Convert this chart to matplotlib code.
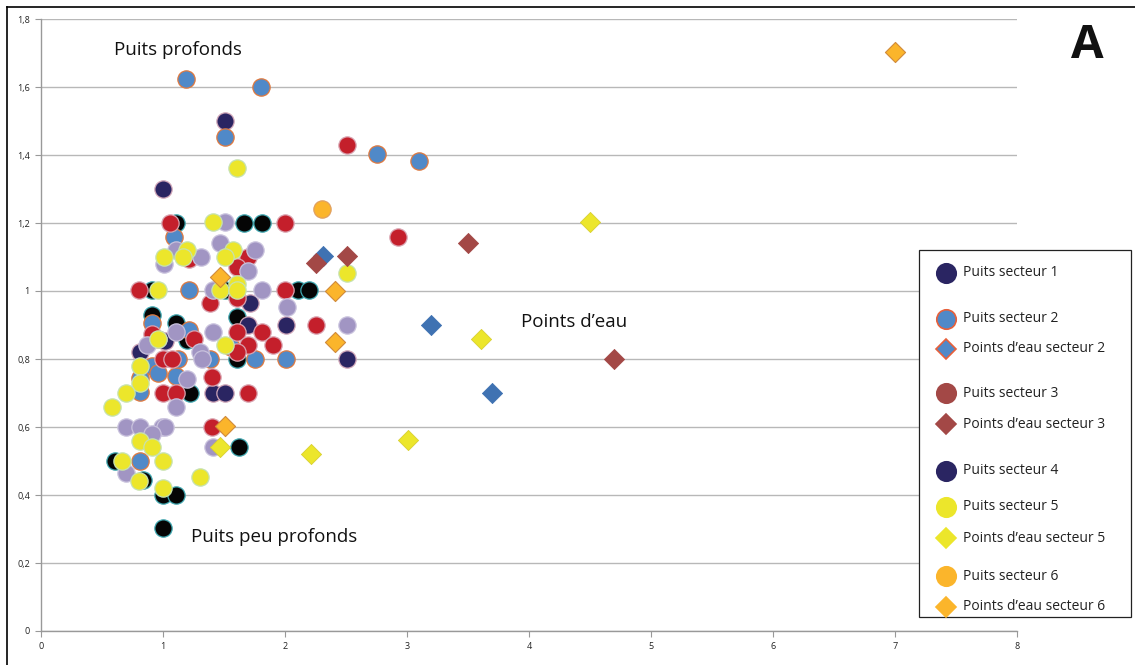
import matplotlib
matplotlib.use("Agg")
import matplotlib.pyplot as plt
from matplotlib.lines import Line2D
from matplotlib.patches import Rectangle

# ---------------- data ----------------
navy_x = [1.00, 1.51, 1.71, 1.70, 2.01, 2.51, 1.41, 1.51, 1.02, 0.81]
navy_y = [1.30, 1.50, 0.965, 0.90, 0.90, 0.80, 0.70, 0.70, 0.853, 0.82]

black_x = [1.11, 0.91, 1.51, 1.66, 1.81, 2.11, 2.20, 1.61, 1.61, 0.91, 1.11, 1.20, 1.22,
           0.61, 0.84, 1.00, 1.11, 1.00, 1.62]
black_y = [1.20, 1.003, 1.003, 1.20, 1.20, 1.003, 1.003, 0.924, 0.80, 0.93, 0.905, 0.855, 0.70,
           0.50, 0.445, 0.40, 0.40, 0.303, 0.54]

blue_x = [1.19, 1.80, 1.51, 2.75, 3.10, 1.09, 1.21, 1.385, 1.75, 2.01, 1.56, 0.91, 1.21,
          0.91, 0.96, 1.11, 0.81, 0.81, 1.12, 0.81]
blue_y = [1.624, 1.60, 1.453, 1.403, 1.382, 1.16, 1.003, 0.80, 0.80, 0.80, 0.835, 0.905, 0.885,
          0.78, 0.76, 0.75, 0.744, 0.703, 0.80, 0.50]

red_x = [1.06, 0.80, 1.385, 1.21, 1.70, 1.61, 1.61, 2.00, 2.00, 2.51, 1.61, 1.81, 1.70, 1.90,
         1.61, 2.25, 1.40, 1.70, 1.40, 1.25, 1.00, 1.07, 0.96, 1.00, 1.11, 0.91, 2.93]
red_y = [1.20, 1.003, 0.965, 1.095, 1.10, 1.07, 0.98, 1.20, 1.003, 1.43, 0.88, 0.88, 0.84, 0.84,
         0.82, 0.90, 0.747, 0.70, 0.60, 0.86, 0.80, 0.80, 0.86, 0.70, 0.70, 0.875, 1.16]

lav_x = [1.51, 1.11, 1.01, 1.31, 1.47, 1.75, 1.70, 1.41, 1.81, 2.02, 2.51, 1.41, 1.30, 1.32,
         0.87, 1.11, 1.20, 1.11, 0.70, 0.81, 0.99, 1.02, 0.91, 1.41, 0.70]
lav_y = [1.203, 1.12, 1.08, 1.10, 1.14, 1.12, 1.06, 1.003, 1.003, 0.953, 0.90, 0.88, 0.82, 0.80,
         0.84, 0.88, 0.74, 0.66, 0.60, 0.60, 0.60, 0.60, 0.58, 0.54, 0.465]

yel_x = [1.61, 1.41, 1.20, 1.01, 1.16, 1.57, 1.51, 0.96, 1.47, 1.61, 1.61, 2.51, 1.51, 0.96,
         0.81, 0.81, 0.70, 0.58, 0.81, 0.91, 1.00, 0.66, 1.00, 0.80, 1.30]
yel_y = [1.362, 1.203, 1.12, 1.10, 1.10, 1.12, 1.10, 1.003, 1.003, 1.02, 1.003, 1.053, 0.84, 0.86,
         0.78, 0.73, 0.70, 0.66, 0.56, 0.54, 0.50, 0.50, 0.42, 0.44, 0.453]

ora_x = [2.30]
ora_y = [1.241]

d_ora_x = [7.00, 1.47, 2.41, 2.41, 1.51]
d_ora_y = [1.703, 1.041, 1.00, 0.85, 0.603]

d_yel_x = [4.50, 3.61, 3.01, 2.21, 1.47]
d_yel_y = [1.203, 0.859, 0.562, 0.521, 0.54]

d_blue_x = [2.31, 3.20, 3.70]
d_blue_y = [1.103, 0.90, 0.70]

d_red_x = [2.25, 2.51, 3.50, 4.70]
d_red_y = [1.082, 1.103, 1.141, 0.80]

x_ticks = [0, 1, 2, 3, 4, 5, 6, 7, 8]
y_ticks = [0, 0.2, 0.4, 0.6, 0.8, 1.0, 1.2, 1.4, 1.6, 1.8]
y_labels = ["0", "0,2", "0,4", "0,6", "0,8", "1", "1,2", "1,4", "1,6", "1,8"]

legend_labels = ["Puits secteur 1", "Puits secteur 2", "Points d\u2019eau secteur 2",
                 "Puits secteur 3", "Points d\u2019eau secteur 3", "Puits secteur 4",
                 "Puits secteur 5", "Points d\u2019eau secteur 5", "Puits secteur 6",
                 "Points d\u2019eau secteur 6"]

# ---------------- colours ----------------
C_NAVY = "#2A2562"
C_BLACK = "#050505"
C_BLUE = "#5089C8"
C_RED = "#C41F2B"
C_LAV = "#A195C3"
C_YEL = "#ECE62B"
C_ORA = "#FBB52B"
C_DBLUE = "#3F72B2"
C_DRED = "#A34846"

plt.rcParams['font.family'] = ['Open Sans', 'DejaVu Sans']

W, H = 1135, 665
fig = plt.figure(figsize=(W / 100, H / 100), dpi=100)
ax = fig.add_axes([41 / W, 1 - 631 / H, (1017 - 41) / W, (631 - 19) / H])

S = 155
ax.scatter(black_x, black_y, s=S, c=C_BLACK, edgecolors="#3FA7B0", linewidths=0.9, zorder=3)
ax.scatter(navy_x, navy_y, s=S, c=C_NAVY, edgecolors="#D0A6B8", linewidths=0.9, zorder=3)
ax.scatter(blue_x, blue_y, s=S, c=C_BLUE, edgecolors="#E0793E", linewidths=0.9, zorder=3)
ax.scatter(red_x, red_y, s=S, c=C_RED, edgecolors="#D9A3B0", linewidths=0.9, zorder=3)
ax.scatter(lav_x, lav_y, s=S, c=C_LAV, edgecolors="#C9C2DD", linewidths=0.9, zorder=3)
ax.scatter(yel_x, yel_y, s=S, c=C_YEL, edgecolors="#C6E2B0", linewidths=0.9, zorder=3)
ax.scatter(ora_x, ora_y, s=S, c=C_ORA, edgecolors="#E0A060", linewidths=0.9, zorder=3)

SD = 105
ax.scatter(d_ora_x, d_ora_y, s=SD, marker="D", c=C_ORA, edgecolors="#D08A3A", linewidths=0.8, zorder=4)
ax.scatter(d_yel_x, d_yel_y, s=SD, marker="D", c=C_YEL, edgecolors="#D8D030", linewidths=0.6, zorder=4)
ax.scatter(d_blue_x, d_blue_y, s=SD, marker="D", c=C_DBLUE, edgecolors=C_DBLUE, linewidths=0.6, zorder=4)
ax.scatter(d_red_x, d_red_y, s=SD, marker="D", c=C_DRED, edgecolors=C_DRED, linewidths=0.6, zorder=4)

ax.set_xlim(0, 8)
ax.set_ylim(0, 1.8)
ax.set_xticks(x_ticks)
ax.set_xticklabels([str(v) for v in x_ticks])
ax.set_yticks(y_ticks)
ax.set_yticklabels(y_labels)
ax.tick_params(axis="both", labelsize=6.5, colors="#999999", length=4, width=0.8, direction="out")
for lab in ax.get_xticklabels() + ax.get_yticklabels():
    lab.set_color("#222222")
ax.xaxis.set_tick_params(pad=4)
ax.yaxis.set_tick_params(pad=4)
ax.grid(axis="y", color="#B8B8B8", linewidth=1.0, zorder=0)
ax.set_axisbelow(True)
for side in ["top", "right"]:
    ax.spines[side].set_visible(False)
for side in ["left", "bottom"]:
    ax.spines[side].set_color("#999999")
    ax.spines[side].set_linewidth(1.0)

# annotations
ax.text(1.12, 1.71, "Puits profonds", fontsize=13.5, ha="center", va="center", color="#111111")
ax.text(1.91, 0.277, "Puits peu profonds", fontsize=13.5, ha="center", va="center", color="#111111")
ax.text(4.37, 0.91, "Points d\u2019eau", fontsize=13.5, ha="center", va="center", color="#111111")
fig.text(1087 / W, 1 - 45 / H, "A", fontsize=34, fontweight="bold", ha="center", va="center",
         color="#111111", family=["Open Sans", "DejaVu Sans"])

# outer frame lines (left and top)
fig.add_artist(Line2D([7 / W, 7 / W], [0, 1 - 7 / H], color="black", linewidth=1.2))
fig.add_artist(Line2D([7 / W, 1], [1 - 7 / H, 1 - 7 / H], color="black", linewidth=1.2))

# legend (manual, with group spacing)
lx0, ly0, lx1, ly1 = 919, 250, 1131, 617
fig.add_artist(Rectangle((lx0 / W, 1 - ly1 / H), (lx1 - lx0) / W, (ly1 - ly0) / H,
                         transform=fig.transFigure, facecolor="white", edgecolor="#222222",
                         linewidth=0.9, zorder=5))
leg_y = [273, 319, 349, 393, 424, 471, 507, 538, 576, 607]
leg_style = [
    ("o", C_NAVY, C_NAVY),
    ("o", C_BLUE, "#E8603A"),
    ("D", C_BLUE, "#E8603A"),
    ("o", C_DRED, C_DRED),
    ("D", C_DRED, C_DRED),
    ("o", C_NAVY, C_NAVY),
    ("o", C_YEL, C_YEL),
    ("D", C_YEL, C_YEL),
    ("o", C_ORA, C_ORA),
    ("D", C_ORA, C_ORA),
]
for yy, (mk, fc, ec), lab in zip(leg_y, leg_style, legend_labels):
    ms = 14 if mk == "o" else 10.5
    fig.add_artist(Line2D([946 / W], [1 - yy / H], marker=mk, markersize=ms, markerfacecolor=fc,
                          markeredgecolor=ec, markeredgewidth=1.2, linestyle="none",
                          transform=fig.transFigure, zorder=6))
    fig.text(963 / W, 1 - yy / H, lab, fontsize=10, ha="left", va="center", color="#222222",
             zorder=6)

fig.savefig("out.png", dpi=100)
